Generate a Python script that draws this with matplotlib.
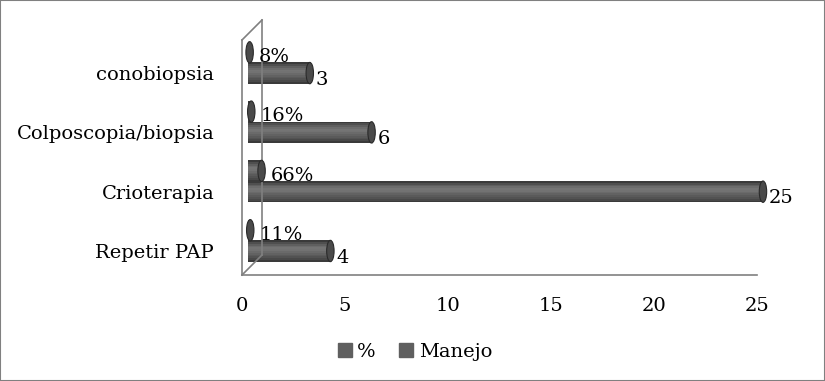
import numpy as np
import matplotlib.pyplot as plt
from matplotlib.patches import Ellipse, Patch, Rectangle

categorias = ['Repetir PAP', 'Crioterapia', 'Colposcopia/biopsia', 'conobiopsia']
porcentaje = [0.11, 0.66, 0.16, 0.08]
etiquetas_pct = ['11%', '66%', '16%', '8%']
manejo = [4, 25, 6, 3]
xticks = [0, 5, 10, 15, 20, 25]

plt.rcParams['font.family'] = ['DejaVu Serif']
plt.rcParams['font.size'] = 14

fig = plt.figure(figsize=(8.25, 3.81), dpi=100)
fig.patches.append(Rectangle((0, 0), 1, 1, transform=fig.transFigure, fill=False,
                             edgecolor='#808080', linewidth=1.5))

W, H = 825, 381
ax = fig.add_axes([242 / W, 1 - 275 / H, (757 - 242) / W, (275 - 20) / H])
ax.set_xlim(0, 25)
ax.set_ylim(-0.405, 3.895)
for s in ax.spines.values():
    s.set_visible(False)

# 3D walls
dx, dy = 0.97, 0.337
wall = dict(color='#808080', linewidth=1.2, clip_on=False)
ax.plot([0, 0], [-0.405, 3.558], **wall)
ax.plot([dx, dx], [-0.405 + dy, 3.895], **wall)
ax.plot([0, dx], [-0.405, -0.405 + dy], **wall)
ax.plot([0, dx], [3.558, 3.895], **wall)
ax.plot([0, 25], [-0.405, -0.405], **wall)

# cylinder shading
shade = ['#3a3a3a', '#4f4f4f', '#5f5f5f', '#6c6c6c', '#747474', '#727272',
         '#6a6a6a', '#626262', '#5a5a5a', '#525252', '#484848', '#3a3a3a']
start = 0.29
hgt = 0.36
capw = 0.36


def cylinder(val, yc):
    n = len(shade)
    for k, c in enumerate(shade):
        yk = yc + hgt / 2 - (k + 0.5) * hgt / n
        ax.barh(yk, val, left=start, height=hgt / n, color=c, linewidth=0,
                clip_on=False)
    ax.add_patch(Ellipse((start + val, yc), capw, hgt, facecolor='#4a4a4a',
                         edgecolor='#2a2a2a', linewidth=0.8, zorder=3,
                         clip_on=False))


y = np.arange(len(categorias))
for i in range(len(categorias)):
    cylinder(porcentaje[i], y[i] + 0.35)
    cylinder(manejo[i], y[i])
    ax.text(start + porcentaje[i] + 0.45, y[i] + 0.27, etiquetas_pct[i],
            va='center', ha='left', zorder=5)
    ax.text(start + manejo[i] + 0.3, y[i] - 0.11, str(manejo[i]),
            va='center', ha='left', zorder=5)

ax.set_yticks(y)
ax.set_yticklabels(categorias)
ax.set_xticks(xticks)
ax.set_xticklabels([str(t) for t in xticks])
ax.tick_params(axis='y', length=0, pad=20)
ax.tick_params(axis='x', length=0, pad=16)

handles = [Patch(facecolor='#5f5f5f', edgecolor='#5f5f5f'),
           Patch(facecolor='#5f5f5f', edgecolor='#5f5f5f')]
fig.legend(handles, ['%', 'Manejo'], loc='center', bbox_to_anchor=(415 / W, 1 - 352 / H),
           ncol=2, frameon=False, handlelength=0.7, handleheight=0.7,
           handletextpad=0.3, columnspacing=1.2)

fig.savefig('out.png', dpi=100)
